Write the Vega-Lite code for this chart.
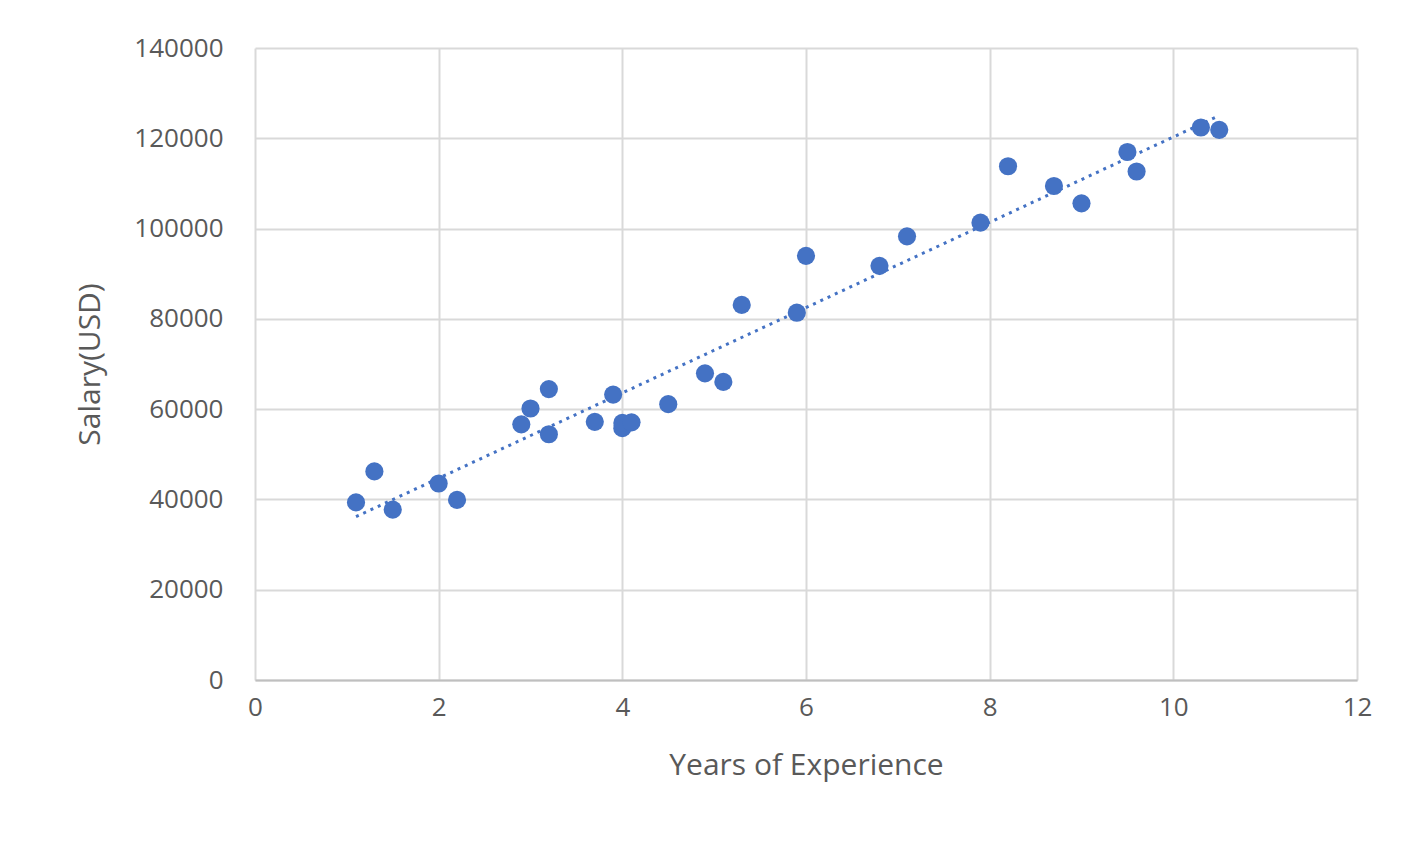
{
  "$schema": "https://vega.github.io/schema/vega-lite/v6.json",
  "autosize": "none",
  "padding": {"left": 255, "top": 48, "right": 68, "bottom": 181},
  "width": 1102,
  "height": 632,
  "background": "white",
  "datasets": {
    "salary": [
      {"years": 1.1, "salary": 39343}, {"years": 1.3, "salary": 46205}, {"years": 1.5, "salary": 37731},
      {"years": 2.0, "salary": 43525}, {"years": 2.2, "salary": 39891}, {"years": 2.9, "salary": 56642},
      {"years": 3.0, "salary": 60150}, {"years": 3.2, "salary": 54445}, {"years": 3.2, "salary": 64445},
      {"years": 3.7, "salary": 57189}, {"years": 3.9, "salary": 63218}, {"years": 4.0, "salary": 55794},
      {"years": 4.0, "salary": 56957}, {"years": 4.1, "salary": 57081}, {"years": 4.5, "salary": 61111},
      {"years": 4.9, "salary": 67938}, {"years": 5.1, "salary": 66029}, {"years": 5.3, "salary": 83088},
      {"years": 5.9, "salary": 81363}, {"years": 6.0, "salary": 93940}, {"years": 6.8, "salary": 91738},
      {"years": 7.1, "salary": 98273}, {"years": 7.9, "salary": 101302}, {"years": 8.2, "salary": 113812},
      {"years": 8.7, "salary": 109431}, {"years": 9.0, "salary": 105582}, {"years": 9.5, "salary": 116969},
      {"years": 9.6, "salary": 112635}, {"years": 10.3, "salary": 122391}, {"years": 10.5, "salary": 121872}
    ],
    "trend": [
      {"years": 1.1, "salary": 36187},
      {"years": 10.5, "salary": 125019}
    ]
  },
  "layer": [
    {
      "data": {"name": "trend"},
      "mark": {"type": "line", "color": "#4472c4", "strokeWidth": 3, "strokeDash": [3, 5]},
      "encoding": {
        "x": {"field": "years", "type": "quantitative"},
        "y": {"field": "salary", "type": "quantitative"}
      }
    },
    {
      "data": {"name": "salary"},
      "mark": {"type": "circle", "color": "#4472c4", "opacity": 1, "size": 330},
      "encoding": {
        "x": {
          "field": "years", "type": "quantitative",
          "scale": {"domain": [0, 12], "nice": false},
          "axis": {"values": [0, 2, 4, 6, 8, 10, 12], "format": "d", "labelFlush": false, "title": "Years of Experience", "titlePadding": 30, "labelPadding": 14}
        },
        "y": {
          "field": "salary", "type": "quantitative",
          "scale": {"domain": [0, 140000], "nice": false},
          "axis": {"values": [0, 20000, 40000, 60000, 80000, 100000, 120000, 140000], "format": "d", "title": "Salary(USD)", "titlePadding": 28, "labelPadding": 32, "domain": false}
        }
      }
    }
  ],
  "config": {
    "font": "Open Sans",
    "view": {"stroke": null},
    "axis": {
      "labelFontSize": 26,
      "labelColor": "#595959",
      "titleFontSize": 30,
      "titleFontWeight": "normal",
      "titleColor": "#595959",
      "gridColor": "#d9d9d9",
      "gridWidth": 2,
      "domainColor": "#bfbfbf",
      "domainWidth": 2,
      "ticks": false
    }
  }
}
